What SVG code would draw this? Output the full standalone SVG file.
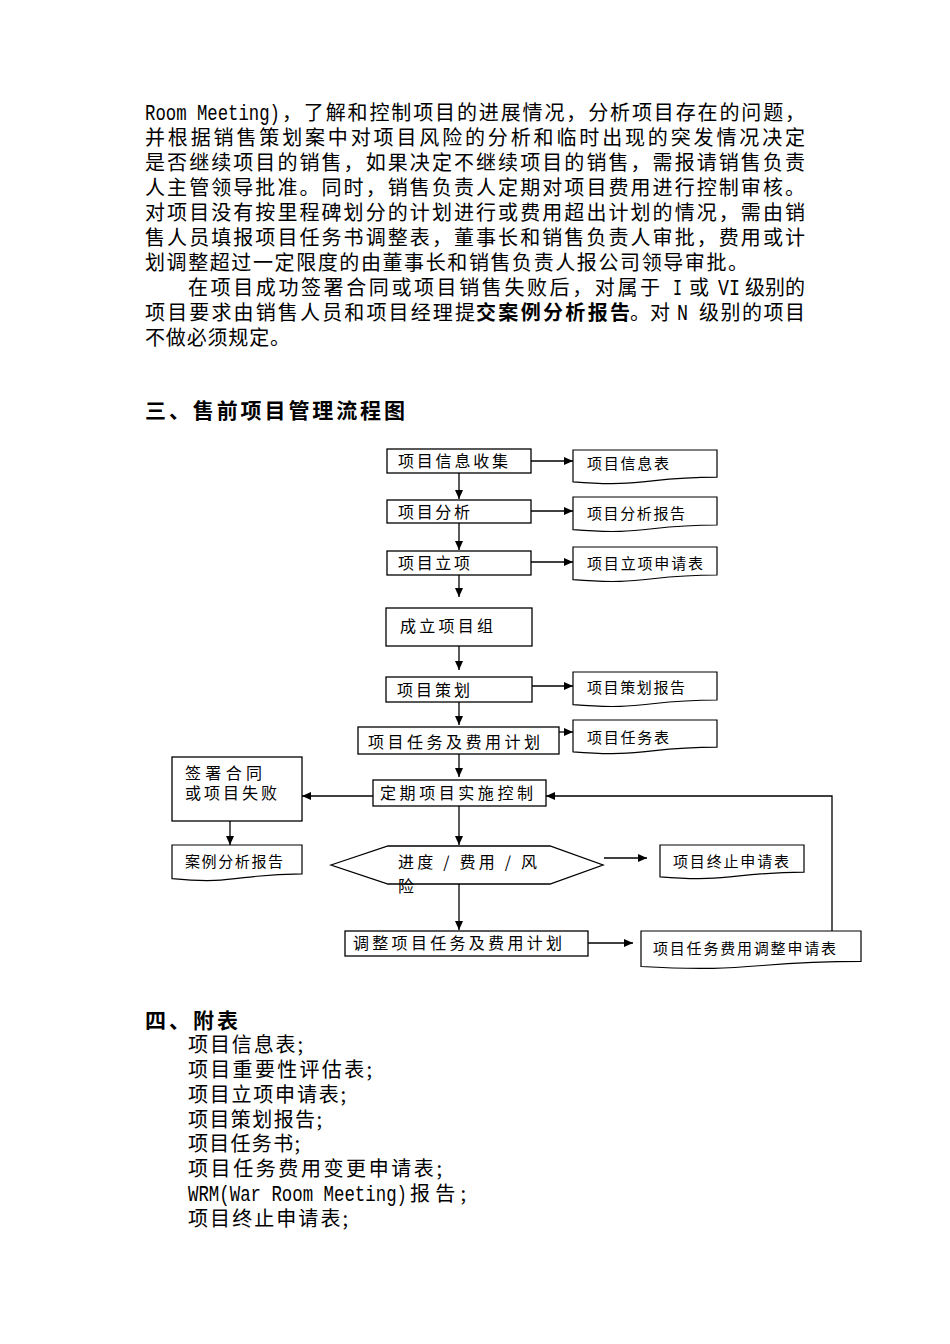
<svg xmlns="http://www.w3.org/2000/svg" width="950" height="1344" viewBox="0 0 950 1344">
<style>
.p{font-family:"Noto Sans CJK SC","Noto Sans",sans-serif;font-size:20px;fill:#000}
.lat{font-family:"Liberation Mono",monospace;font-size:22px;fill:#000}
.h{font-family:"Noto Sans CJK SC",sans-serif;font-size:21px;font-weight:bold;fill:#000}
.bt{font-family:"Noto Sans CJK SC",sans-serif;font-size:16px;fill:#000}
.dt{font-family:"Noto Sans CJK SC",sans-serif;font-size:15px;fill:#000}
.box{fill:#fff;stroke:#000;stroke-width:1.3}
.doc{fill:#fff;stroke:#000;stroke-width:1.2}
.ln{fill:none;stroke:#000;stroke-width:1.3}
</style>
<defs>
<marker id="ah" markerWidth="10" markerHeight="10" refX="9" refY="5" orient="auto" markerUnits="userSpaceOnUse">
<path d="M0,1 L9,5 L0,9 Z" fill="#000"/>
</marker>
</defs>
<rect width="950" height="1344" fill="#fff"/>

<g id="paragraph">
<text class="lat" x="145" y="120" textLength="135" lengthAdjust="spacingAndGlyphs">Room Meeting)</text>
<text class="p" x="282" y="120" textLength="523" lengthAdjust="spacing">，了解和控制项目的进展情况，分析项目存在的问题，</text>
<text class="p" x="145" y="145" textLength="660" lengthAdjust="spacing">并根据销售策划案中对项目风险的分析和临时出现的突发情况决定</text>
<text class="p" x="145" y="170" textLength="660" lengthAdjust="spacing">是否继续项目的销售，如果决定不继续项目的销售，需报请销售负责</text>
<text class="p" x="145" y="195" textLength="660" lengthAdjust="spacing">人主管领导批准。同时，销售负责人定期对项目费用进行控制审核。</text>
<text class="p" x="145" y="220" textLength="660" lengthAdjust="spacing">对项目没有按里程碑划分的计划进行或费用超出计划的情况，需由销</text>
<text class="p" x="145" y="245" textLength="660" lengthAdjust="spacing">售人员填报项目任务书调整表，董事长和销售负责人审批，费用或计</text>
<text class="p" x="145" y="270" textLength="603" lengthAdjust="spacing">划调整超过一定限度的由董事长和销售负责人报公司领导审批。</text>
<text class="p" x="188" y="295" textLength="472" lengthAdjust="spacing">在项目成功签署合同或项目销售失败后，对属于</text>
<text class="lat" x="673" y="295" textLength="9" lengthAdjust="spacingAndGlyphs">I</text>
<text class="p" x="689" y="295">或</text>
<text class="lat" x="718" y="295" textLength="22" lengthAdjust="spacingAndGlyphs">VI</text>
<text class="p" x="745" y="295" textLength="60" lengthAdjust="spacing">级别的</text>
<text class="p" x="145" y="320" textLength="330" lengthAdjust="spacing">项目要求由销售人员和项目经理提</text>
<text class="p" x="476" y="320" textLength="154" lengthAdjust="spacing" font-weight="bold">交案例分析报告</text>
<text class="p" x="630" y="320" textLength="40" lengthAdjust="spacing">。对</text>
<text class="lat" x="677" y="320" textLength="11" lengthAdjust="spacingAndGlyphs">N</text>
<text class="p" x="699" y="320" textLength="106" lengthAdjust="spacing">级别的项目</text>
<text class="p" x="145" y="345" textLength="145" lengthAdjust="spacing">不做必须规定。</text>
</g>

<text class="h" x="145" y="418" textLength="260" lengthAdjust="spacing">三、售前项目管理流程图</text>

<g id="connectors">
<line class="ln" x1="459" y1="473" x2="459" y2="499" marker-end="url(#ah)"/>
<line class="ln" x1="459" y1="523" x2="459" y2="550" marker-end="url(#ah)"/>
<line class="ln" x1="459" y1="575" x2="459" y2="597" marker-end="url(#ah)"/>
<line class="ln" x1="459" y1="646" x2="459" y2="670" marker-end="url(#ah)"/>
<line class="ln" x1="459" y1="695" x2="459" y2="725" marker-end="url(#ah)"/>
<line class="ln" x1="459" y1="747" x2="459" y2="777" marker-end="url(#ah)"/>
<line class="ln" x1="459" y1="806" x2="459" y2="845" marker-end="url(#ah)"/>
<line class="ln" x1="459" y1="884" x2="459" y2="930" marker-end="url(#ah)"/>
<line class="ln" x1="531" y1="461" x2="573" y2="461" marker-end="url(#ah)"/>
<line class="ln" x1="531" y1="511" x2="573" y2="511" marker-end="url(#ah)"/>
<line class="ln" x1="531" y1="562" x2="573" y2="562" marker-end="url(#ah)"/>
<line class="ln" x1="532" y1="686" x2="573" y2="686" marker-end="url(#ah)"/>
<line class="ln" x1="559" y1="732" x2="573" y2="732" marker-end="url(#ah)"/>
<line class="ln" x1="373" y1="796" x2="302" y2="796" marker-end="url(#ah)"/>
<line class="ln" x1="230" y1="821" x2="230" y2="845" marker-end="url(#ah)"/>
<line class="ln" x1="604" y1="858" x2="647" y2="858" marker-end="url(#ah)"/>
<line class="ln" x1="588" y1="943" x2="633" y2="943" marker-end="url(#ah)"/>
<polyline class="ln" points="832,931 832,796 546,796" marker-end="url(#ah)"/>
</g>

<g id="n1"><rect class="box" x="387" y="449" width="144" height="24"/><text class="bt" x="398" y="467" textLength="110" lengthAdjust="spacing">项目信息收集</text></g>
<g id="n2"><rect class="box" x="387" y="500" width="144" height="23"/><text class="bt" x="398" y="518" textLength="72" lengthAdjust="spacing">项目分析</text></g>
<g id="n3"><rect class="box" x="387" y="551" width="144" height="24"/><text class="bt" x="398" y="569" textLength="72" lengthAdjust="spacing">项目立项</text></g>
<g id="n4"><rect class="box" x="386" y="608" width="146" height="38"/><text class="bt" x="400" y="632" textLength="93" lengthAdjust="spacing">成立项目组</text></g>
<g id="n5"><rect class="box" x="386" y="677" width="146" height="25"/><text class="bt" x="397" y="696" textLength="73" lengthAdjust="spacing">项目策划</text></g>
<g id="n6"><rect class="box" x="358" y="727" width="201" height="27"/><text class="bt" x="368" y="748" textLength="172" lengthAdjust="spacing">项目任务及费用计划</text></g>
<g id="n7"><rect class="box" x="373" y="780" width="173" height="26"/><text class="bt" x="380" y="799" textLength="153" lengthAdjust="spacing">定期项目实施控制</text></g>
<g id="n8"><polygon class="box" points="331,865 388,846 550,846 603,865 550,884 388,884"/><text class="bt" x="398" y="868" textLength="139" lengthAdjust="spacing">进度 / 费用 / 风</text><text class="bt" x="398" y="892">险</text></g>
<g id="n9"><rect class="box" x="345" y="931" width="243" height="25"/><text class="bt" x="353" y="949" textLength="209" lengthAdjust="spacing">调整项目任务及费用计划</text></g>
<g id="n10"><rect class="box" x="172" y="757" width="130" height="64"/><text class="bt" x="185" y="779" textLength="77" lengthAdjust="spacing">签署合同</text><text class="bt" x="185" y="799" textLength="92" lengthAdjust="spacing">或项目失败</text></g>

<g id="d1"><path class="doc" d="M573,450 H717 V477.2 C645,477.2 645,487.6 573,481.8 Z"/><text class="dt" x="587" y="469" textLength="82" lengthAdjust="spacing">项目信息表</text></g>
<g id="d2"><path class="doc" d="M573,497 H717 V525 C645,525 645,535.7 573,529.7 Z"/><text class="dt" x="587" y="519" textLength="98" lengthAdjust="spacing">项目分析报告</text></g>
<g id="d3"><path class="doc" d="M573,547 H717 V575 C645,575 645,585.7 573,579.7 Z"/><text class="dt" x="587" y="569" textLength="116" lengthAdjust="spacing">项目立项申请表</text></g>
<g id="d4"><path class="doc" d="M573,672 H717 V700 C645,700 645,710.7 573,704.7 Z"/><text class="dt" x="587" y="693" textLength="98" lengthAdjust="spacing">项目策划报告</text></g>
<g id="d5"><path class="doc" d="M573,720 H717 V747.2 C645,747.2 645,757.6 573,751.8 Z"/><text class="dt" x="587" y="743" textLength="82" lengthAdjust="spacing">项目任务表</text></g>
<g id="d6"><path class="doc" d="M172,845 H302 V873.8 C237,873.8 237,884.9 172,878.6 Z"/><text class="dt" x="185" y="867" textLength="98" lengthAdjust="spacing">案例分析报告</text></g>
<g id="d7"><path class="doc" d="M660,845 H804 V872.2 C732,872.2 732,882.6 660,876.8 Z"/><text class="dt" x="673" y="867" textLength="116" lengthAdjust="spacing">项目终止申请表</text></g>
<g id="d8"><path class="doc" d="M641,931 H861 V961.4 C751,961.4 751,973 641,966.5 Z"/><text class="dt" x="653" y="954" textLength="183" lengthAdjust="spacing">项目任务费用调整申请表</text></g>

<text class="h" x="145" y="1028" textLength="93" lengthAdjust="spacing">四、附表</text>
<g id="appendix">
<text class="p" x="188" y="1052" textLength="115" lengthAdjust="spacing">项目信息表;</text>
<text class="p" x="188" y="1077" textLength="184" lengthAdjust="spacing">项目重要性评估表;</text>
<text class="p" x="188" y="1102" textLength="158" lengthAdjust="spacing">项目立项申请表;</text>
<text class="p" x="188" y="1127" textLength="134" lengthAdjust="spacing">项目策划报告;</text>
<text class="p" x="188" y="1151" textLength="112" lengthAdjust="spacing">项目任务书;</text>
<text class="p" x="188" y="1176" textLength="254" lengthAdjust="spacing">项目任务费用变更申请表;</text>
<text class="lat" x="188" y="1201" textLength="219" lengthAdjust="spacingAndGlyphs">WRM(War Room Meeting)</text>
<text class="p" x="410" y="1201" textLength="56" lengthAdjust="spacing">报告;</text>
<text class="p" x="188" y="1226" textLength="160" lengthAdjust="spacing">项目终止申请表;</text>
</g>
</svg>
